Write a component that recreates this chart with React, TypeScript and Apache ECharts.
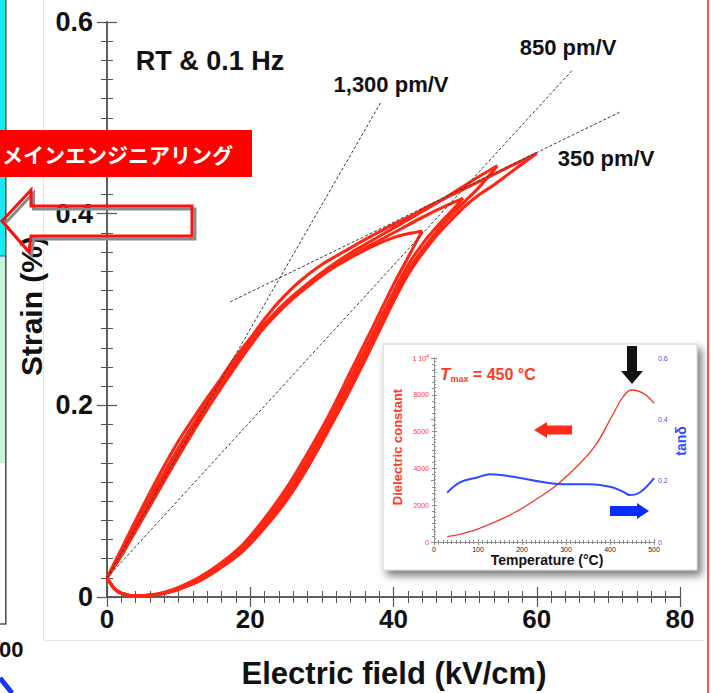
import { useEffect, useRef } from "react";
import * as echarts from "echarts";

// Strain–field loops (E in kV/cm, strain in %), rising and falling branches per field amplitude
const loop44Rise = [[0,0.02],[1,0.009],[2,0.004],[4,0.001],[6,0.002],[8,0.005],[10,0.01],[13,0.021],[16,0.036],[19,0.055],[22,0.082],[25,0.113],[28,0.15],[31,0.19],[34,0.235],[37,0.28],[40,0.326],[42,0.354],[44,0.382]];
const loop44Fall = [[0,0.02],[2,0.043],[4,0.069],[6,0.095],[8,0.121],[10,0.147],[12,0.172],[14,0.196],[16,0.219],[18,0.241],[20,0.262],[22,0.282],[25,0.305],[28,0.324],[31,0.341],[34,0.354],[36,0.362],[38,0.369],[40,0.375],[42,0.379],[44,0.382]];
const loop50Rise = [[0,0.02],[1,0.009],[2,0.004],[4,0.001],[6,0.002],[8,0.004],[10,0.009],[13,0.019],[16,0.034],[19,0.053],[22,0.078],[25,0.108],[28,0.144],[31,0.184],[34,0.228],[37,0.273],[40,0.318],[42,0.346],[44,0.368],[46,0.386],[48,0.402],[49.7,0.416]];
const loop50Fall = [[0,0.02],[2,0.045],[4,0.072],[6,0.099],[8,0.125],[10,0.151],[12,0.175],[14,0.199],[16,0.222],[18,0.244],[20,0.264],[23,0.29],[26,0.312],[29,0.33],[32,0.346],[35,0.36],[38,0.372],[41,0.384],[44,0.396],[47,0.407],[49.7,0.416]];
const loop55Rise = [[0,0.02],[1,0.009],[2,0.004],[4,0.001],[6,0.002],[8,0.004],[10,0.008],[13,0.018],[16,0.032],[19,0.05],[22,0.075],[25,0.104],[28,0.139],[31,0.179],[34,0.222],[37,0.267],[40,0.312],[42,0.34],[44,0.362],[46,0.381],[48,0.398],[50,0.413],[52,0.428],[54.5,0.45]];
const loop55Fall = [[0,0.02],[2,0.047],[4,0.075],[6,0.103],[8,0.13],[10,0.156],[12,0.18],[14,0.203],[16,0.225],[18,0.247],[20,0.267],[22,0.285],[25,0.308],[28,0.327],[31,0.344],[34,0.359],[37,0.372],[40,0.385],[43,0.398],[46,0.411],[49,0.425],[52,0.439],[54.5,0.45]];
const loop60Rise = [[0,0.02],[1,0.009],[2,0.004],[4,0.001],[6,0.002],[8,0.004],[10,0.008],[13,0.017],[16,0.031],[19,0.048],[22,0.072],[25,0.1],[28,0.135],[31,0.175],[34,0.217],[37,0.262],[40,0.308],[42,0.336],[44,0.358],[46,0.377],[48,0.393],[50,0.408],[52,0.42],[54,0.43],[56,0.441],[58,0.452],[60,0.463]];
const loop60Fall = [[0,0.02],[2,0.05],[4,0.08],[6,0.109],[8,0.137],[10,0.163],[12,0.186],[14,0.208],[16,0.229],[18,0.251],[20,0.27],[22,0.29],[24,0.308],[27,0.33],[30,0.347],[33,0.36],[36,0.373],[39,0.385],[42,0.396],[45,0.408],[48,0.419],[51,0.43],[54,0.441],[57,0.452],[60,0.463]];
const loops = [loop44Rise, loop44Fall, loop50Rise, loop50Fall, loop55Rise, loop55Fall, loop60Rise, loop60Fall];

// Piezoelectric slope guides
const slope1300 = [[0, 0.02], [38.3, 0.517]];
const slope850 = [[0, 0.02], [65, 0.55]];
const slope350 = [[17.2, 0.308], [71.6, 0.506]];
const slopeNames = ["1,300 pm/V", "850 pm/V", "350 pm/V"];

// Main axes
const fieldRange = [0, 80];
const fieldStep = 20;
const strainRange = [0, 0.6];
const strainStep = 0.2;

// Inset: dielectric constant and tan δ vs temperature
const tempEps = [30, 67, 104, 180, 241, 279, 332, 370, 408, 430, 449, 476, 500];
const dielectric = [290, 473, 744, 1560, 2460, 3100, 4280, 5360, 7000, 7900, 8260, 8080, 7540];
const tempTan = [30, 60, 100, 127, 180, 250, 300, 350, 400, 430, 445, 470, 500];
const tanDelta = [0.161, 0.195, 0.211, 0.221, 0.213, 0.195, 0.188, 0.188, 0.18, 0.164, 0.153, 0.164, 0.208];
const tempRange = [0, 500];
const epsRange = [0, 10000];
const tanRange = [0, 0.6];

const FONT = "'Liberation Sans', Arial, Helvetica, sans-serif";
const RED = "#ff2614";
const AXIS = "#555";

export default function App() {
  const ref = useRef<HTMLDivElement>(null);

  useEffect(() => {
    if (!ref.current) return;
    const chart = echarts.init(ref.current, null, { renderer: "svg" });

    const mainAxisCommon = {
      axisLine: { show: true, lineStyle: { color: AXIS, width: 1.5 } },
      axisTick: { show: true, inside: true, length: 10, lineStyle: { color: AXIS, width: 1.2 } },
      minorTick: { show: true, splitNumber: 10, length: 6, lineStyle: { color: AXIS, width: 1 } },
      splitLine: { show: false },
    };
    const insetAxisCommon = {
      axisLine: { show: true, lineStyle: { color: "#8c8c8c", width: 1 } },
      axisTick: { show: true, inside: true, length: 3, lineStyle: { color: "#8c8c8c", width: 1 } },
      minorTick: { show: true, splitNumber: 10, length: 2, lineStyle: { color: "#8c8c8c", width: 1 } },
      splitLine: { show: false },
      z: 60,
    };

    const loopSeries = loops.map((pts) => ({
      type: "line",
      xAxisIndex: 0,
      yAxisIndex: 0,
      data: pts,
      showSymbol: false,
      smooth: 0.3,
      lineStyle: { color: RED, width: 3.1 },
      z: 3,
      silent: true,
    }));
    const slopeSeries = [slope1300, slope850, slope350].map((pts, i) => ({
      type: "line",
      name: slopeNames[i],
      xAxisIndex: 0,
      yAxisIndex: 0,
      data: pts,
      showSymbol: false,
      lineStyle: { color: "#3a3a3a", width: 1, type: [3, 2] },
      z: 5,
      silent: true,
    }));

    const text = (t: string, x: number, y: number, size: number, extra: any = {}, el: any = {}) => ({
      type: "text",
      x,
      y,
      z: 10,
      ...el,
      style: {
        text: t,
        fill: "#111",
        fontFamily: FONT,
        fontWeight: "bold",
        fontSize: size,
        align: "center",
        verticalAlign: "middle",
        ...extra,
      },
    });

    const graphic: any[] = [
      // picture border lines
      { type: "line", z: 1, shape: { x1: 43.5, y1: 0, x2: 43.5, y2: 640 }, style: { stroke: "#e4e4e4", lineWidth: 1 } },
      { type: "line", z: 1, shape: { x1: 43, y1: 640.5, x2: 704, y2: 640.5 }, style: { stroke: "#e4e4e4", lineWidth: 1 } },
      // right slide edge
      { type: "line", z: 100, shape: { x1: 708, y1: 0, x2: 708, y2: 693 }, style: { stroke: "#ff1a1a", lineWidth: 1.5 } },
      // left neighbouring panel
      { type: "rect", z: 1, shape: { x: 0, y: 0, width: 5.5, height: 256 }, style: { fill: "#19eaf0" } },
      { type: "rect", z: 1, shape: { x: 0, y: 256, width: 5.5, height: 207 }, style: { fill: "#c8f3da" } },
      { type: "line", z: 2, shape: { x1: 0, y1: 256, x2: 5.5, y2: 256 }, style: { stroke: "#2b6cff", lineWidth: 1.2 } },
      { type: "polyline", z: 2, shape: { points: [[5.8, 0], [5.8, 624], [0, 624]] }, style: { stroke: "#555", lineWidth: 1.6, fill: "none" } },
      text("00", -1, 649, 22, { align: "left" }),
      { type: "line", z: 2, shape: { x1: 0, y1: 678, x2: 12, y2: 693 }, style: { stroke: "#1636ff", lineWidth: 5 } },

      // annotations in the main plot
      text("RT & 0.1 Hz", 210, 61, 27),
      text(slopeNames[0], 391, 84, 22),
      text(slopeNames[1], 568, 47, 22),
      text(slopeNames[2], 606, 158, 22),
      text("Strain (%)", 31, 306, 30, {}, { rotation: Math.PI / 2 }),
      text("Electric field (kV/cm)", 394, 673, 31),

      // inset panel
      {
        type: "rect",
        z: 50,
        shape: { x: 383, y: 344, width: 314, height: 226 },
        style: {
          fill: "#fff",
          stroke: "#d0d0d0",
          lineWidth: 1,
          shadowBlur: 8,
          shadowOffsetX: 4,
          shadowOffsetY: 5,
          shadowColor: "rgba(0,0,0,0.55)",
        },
      },
      text("Dielectric constant", 397, 447, 13, { fill: "#ff3a2a" }, { rotation: Math.PI / 2, z: 70 }),
      text("tanδ", 681, 441, 14, { fill: "#2d4cff" }, { rotation: Math.PI / 2, z: 70 }),
      text("Temperature (°C)", 547, 560, 14, {}, { z: 70 }),
      {
        type: "text",
        x: 440,
        y: 374,
        z: 70,
        style: {
          text: "{t|T}{s|max}{n| = 450 °C}",
          fill: "#ff3a2a",
          fontFamily: FONT,
          align: "left",
          verticalAlign: "middle",
          rich: {
            t: { fontSize: 17, fontStyle: "italic", fontWeight: "bold", fontFamily: FONT, fill: "#ff3a2a" },
            s: { fontSize: 9, fontWeight: "bold", fontFamily: FONT, fill: "#ff3a2a", padding: [10, 0, 0, 0] },
            n: { fontSize: 16, fontWeight: "bold", fontFamily: FONT, fill: "#ff3a2a" },
          },
        },
      },
      // inset arrows
      { type: "polygon", z: 70, shape: { points: [[534, 430], [547, 422], [547, 425.5], [572, 425.5], [572, 434.5], [547, 434.5], [547, 438]] }, style: { fill: "#ff2a1a" } },
      { type: "polygon", z: 70, shape: { points: [[649, 511], [637, 503], [637, 506], [610, 506], [610, 516], [637, 516], [637, 519]] }, style: { fill: "#0a2dff" } },
      { type: "polygon", z: 70, shape: { points: [[632, 384], [621, 371], [627, 371], [627, 346], [637, 346], [637, 371], [643, 371]] }, style: { fill: "#111" } },

      // banner and outline arrow
      { type: "rect", z: 100, shape: { x: 0, y: 130, width: 252, height: 47 }, style: { fill: "#ff0000" } },
      {
        type: "text",
        x: -19,
        y: 154,
        z: 101,
        style: {
          text: "ドメインエンジニアリング",
          fill: "#fff",
          fontFamily: "'Noto Sans CJK JP', sans-serif",
          fontWeight: "bold",
          fontSize: 21,
          align: "left",
          verticalAlign: "middle",
        },
      },
      {
        type: "polygon",
        z: 100,
        shape: { points: [[4.5, 224], [33.5, 193], [33.5, 209], [195, 209], [195, 239], [33.5, 239], [31.5, 255]] },
        style: { fill: "none", stroke: "#8a8a8a", lineWidth: 3 },
      },
      {
        type: "polygon",
        z: 101,
        shape: { points: [[2, 221], [31, 190], [31, 206], [192, 206], [192, 236], [31, 236], [29, 252]] },
        style: { fill: "none", stroke: "#ff1010", lineWidth: 3 },
      },
    ];

    const option: any = {
      animation: false,
      backgroundColor: "#fff",
      grid: [
        { left: 107, top: 22, width: 573, height: 575, containLabel: false },
        { left: 434, top: 358, width: 220, height: 184, containLabel: false },
      ],
      xAxis: [
        {
          type: "value", gridIndex: 0, position: "bottom", min: fieldRange[0], max: fieldRange[1], interval: fieldStep,
          ...mainAxisCommon,
          axisLabel: { show: true, margin: 9, color: "#111", fontSize: 26, fontWeight: "bold", fontFamily: FONT },
        },
        {
          type: "value", gridIndex: 0, position: "top", min: fieldRange[0], max: fieldRange[1], interval: fieldStep,
          ...mainAxisCommon, axisLabel: { show: false },
        },
        {
          type: "value", gridIndex: 1, position: "bottom", min: tempRange[0], max: tempRange[1], interval: 100,
          ...insetAxisCommon,
          axisLabel: { show: true, margin: 4, color: "#222", fontSize: 7, fontFamily: FONT },
        },
        {
          type: "value", gridIndex: 1, position: "top", min: tempRange[0], max: tempRange[1], interval: 100,
          ...insetAxisCommon, axisLabel: { show: false },
        },
      ],
      yAxis: [
        {
          type: "value", gridIndex: 0, position: "left", min: strainRange[0], max: strainRange[1], interval: strainStep,
          ...mainAxisCommon,
          axisLabel: {
            show: true, margin: 14, color: "#111", fontSize: 27, fontWeight: "bold", fontFamily: FONT,
            formatter: (v: number) => (v === 0 ? "0" : v.toFixed(1)),
          },
        },
        {
          type: "value", gridIndex: 0, position: "right", min: strainRange[0], max: strainRange[1], interval: strainStep,
          ...mainAxisCommon, axisLabel: { show: false },
        },
        {
          type: "value", gridIndex: 1, position: "left", min: epsRange[0], max: epsRange[1], interval: 2000,
          ...insetAxisCommon,
          axisLabel: {
            show: true, margin: 5, color: "#ff3a2a", fontSize: 7, fontFamily: FONT,
            formatter: (v: number) => (v === 10000 ? "{a|1 10}{b|4}" : String(v)),
            rich: {
              a: { fontSize: 7, color: "#ff3a2a", fontFamily: FONT },
              b: { fontSize: 5, color: "#ff3a2a", fontFamily: FONT, padding: [0, 0, 5, 0] },
            },
          },
        },
        {
          type: "value", gridIndex: 1, position: "right", min: tanRange[0], max: tanRange[1], interval: 0.2,
          ...insetAxisCommon,
          axisLabel: {
            show: true, margin: 4, color: "#3a55ff", fontSize: 7, fontFamily: FONT,
            formatter: (v: number) => (v === 0 ? "0" : v.toFixed(1)),
          },
        },
      ],
      series: [
        ...loopSeries,
        ...slopeSeries,
        {
          type: "line",
          name: "Dielectric constant",
          xAxisIndex: 2,
          yAxisIndex: 2,
          data: tempEps.map((t, i) => [t, dielectric[i]]),
          showSymbol: false,
          smooth: 0.4,
          lineStyle: { color: "#ee3a2a", width: 1.3 },
          z: 62,
          silent: true,
        },
        {
          type: "line",
          name: "tanδ",
          xAxisIndex: 2,
          yAxisIndex: 3,
          data: tempTan.map((t, i) => [t, tanDelta[i]]),
          showSymbol: false,
          smooth: 0.4,
          lineStyle: { color: "#2d4cff", width: 2 },
          z: 62,
          silent: true,
        },
      ],
      graphic,
    };

    chart.setOption(option);
    return () => chart.dispose();
  }, []);

  return (
    <div
      ref={ref}
      style={{ position: "fixed", left: 0, top: 0, width: 711, height: 693, background: "#fff" }}
    />
  );
}
